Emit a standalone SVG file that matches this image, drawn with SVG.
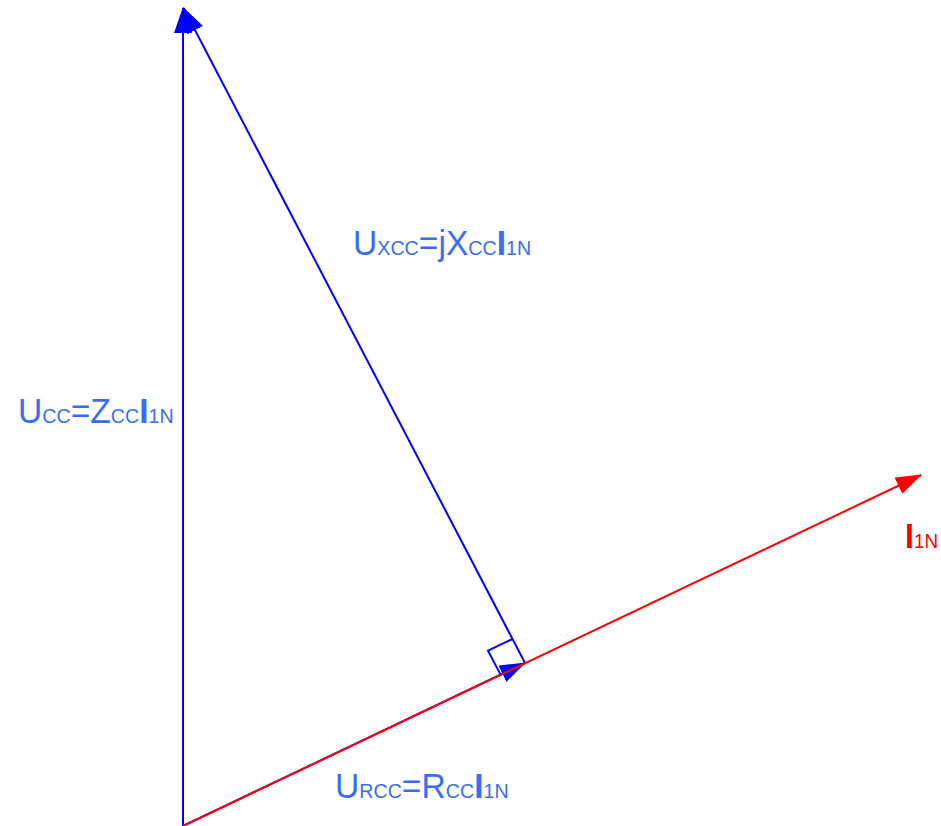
<svg xmlns="http://www.w3.org/2000/svg" width="941" height="826" viewBox="0 0 941 826">
  <style>
    .lbl { font-family: "Liberation Sans", Arial, sans-serif; fill: #3a6df5; }
    .red { fill: #ff0000; }
    .m { font-size: 35px; }
    .s { font-size: 20.5px; }
    .b { font-weight: bold; }
    .vb { stroke: #0000ff; stroke-width: 2; fill: none; }
    .vr { stroke: #ff0000; stroke-width: 2; fill: none; }
  </style>
  <defs>
    <marker id="ab" viewBox="0 0 26 18" refX="25" refY="9" markerWidth="26" markerHeight="18" markerUnits="userSpaceOnUse" orient="auto">
      <path d="M0,0 L26,9 L0,18 z" fill="#0000ff"/>
    </marker>
    <marker id="ar" viewBox="0 0 26 18" refX="25" refY="9" markerWidth="26" markerHeight="18" markerUnits="userSpaceOnUse" orient="auto">
      <path d="M0,0 L26,9 L0,18 z" fill="#ff0000"/>
    </marker>
  </defs>
  <rect width="941" height="826" fill="#ffffff"/>
  <g id="connectors">
    <line class="vb" x1="183" y1="826" x2="183" y2="8" marker-end="url(#ab)"/>
    <line class="vb" x1="525" y1="663" x2="183.5" y2="8" marker-end="url(#ab)"/>
    <line class="vb" x1="183" y1="826" x2="525" y2="663" marker-end="url(#ab)"/>
    <line class="vr" x1="183" y1="826" x2="921" y2="475" marker-end="url(#ar)"/>
    <polyline class="vb" points="512.5,639 488,650.6 500.6,674.6"/>
  </g>
  <g id="label-ucc" transform="translate(18,423) scale(0.96,1)">
    <text class="lbl" x="0" y="0"><tspan class="m">U</tspan><tspan class="s">CC</tspan><tspan class="m">=Z</tspan><tspan class="s">CC</tspan><tspan class="m b">I</tspan><tspan class="s">1N</tspan></text>
  </g>
  <g id="label-uxcc" transform="translate(353,255) scale(0.96,1)">
    <text class="lbl" x="0" y="0"><tspan class="m">U</tspan><tspan class="s">XCC</tspan><tspan class="m">=jX</tspan><tspan class="s">CC</tspan><tspan class="m b">I</tspan><tspan class="s">1N</tspan></text>
  </g>
  <g id="label-urcc" transform="translate(335,798) scale(0.96,1)">
    <text class="lbl" x="0" y="0"><tspan class="m">U</tspan><tspan class="s">RCC</tspan><tspan class="m">=R</tspan><tspan class="s">CC</tspan><tspan class="m b">I</tspan><tspan class="s">1N</tspan></text>
  </g>
  <g id="label-i1n" transform="translate(905,548) scale(0.92,1)">
    <text class="lbl red" x="0" y="0"><tspan class="m b">I</tspan><tspan class="s">1N</tspan></text>
  </g>
</svg>
